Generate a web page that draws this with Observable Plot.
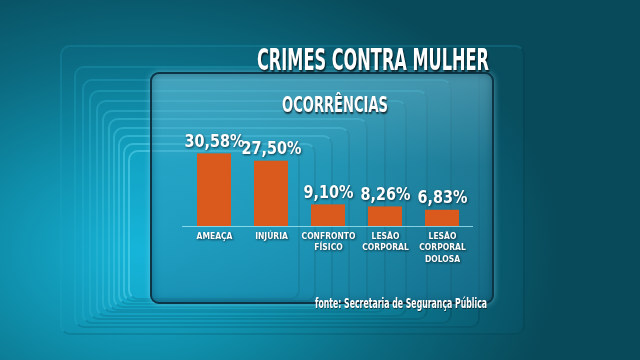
<!DOCTYPE html>
<html>
<head>
<meta charset="utf-8">
<script src="https://cdn.jsdelivr.net/npm/d3@7"></script>
<script src="https://cdn.jsdelivr.net/npm/@observablehq/plot@0.6"></script>
<style>
  html, body { margin: 0; padding: 0; }
  body {
    width: 640px; height: 360px; overflow: hidden; position: relative;
    background: radial-gradient(ellipse 420px 300px at 140px 250px, #17b3d6 0%, #0f8eaa 35%, #0b6a80 65%, #084a5a 100%);
    font-family: "DejaVu Sans", sans-serif;
  }
  .frame { position: absolute; border-radius: 10px; box-sizing: border-box; }
  #panel {
    position: absolute; left: 150px; top: 72px; width: 340px; height: 228px;
    border-radius: 9px; border: 2px solid #0c3444;
    background: linear-gradient(180deg, rgba(120,200,225,0.55) 0%, rgba(60,160,195,0.42) 40%, rgba(30,120,155,0.5) 100%);
    box-shadow: 0 0 6px rgba(150,230,255,0.5), inset 0 0 8px rgba(0,40,60,0.4);
  }
  .fit { position: absolute; color: #fff; font-weight: bold; white-space: nowrap; transform-origin: left top; }
  #title { left: 257px; top: 41px; font-size: 31px; text-shadow: 2px 2px 2px rgba(0,0,0,0.7); }
  #subtitle { left: 282px; top: 92px; font-size: 22px; text-shadow: 1px 2px 2px rgba(0,0,0,0.7); }
  #source { left: 315px; top: 295px; font-size: 14px; text-shadow: 1px 1px 1px rgba(0,0,0,0.6); }
  #chart { position: absolute; left: 0; top: 0; }
  #chart svg text { filter: drop-shadow(1px 1.5px 1px rgba(0,20,30,0.75)); }
</style>
</head>
<body>
<div id="frames"></div>
<div id="panel"></div>
<div id="chart"></div>
<div id="title" class="fit" data-w="232">CRIMES CONTRA MULHER</div>
<div id="subtitle" class="fit" data-w="106">OCORRÊNCIAS</div>
<div id="source" class="fit" data-w="172">fonte: Secretaria de Segurança Pública</div>
<script>
// Data
const categories = ["AMEAÇA", "INJÚRIA", "CONFRONTO FÍSICO", "LESÃO CORPORAL", "LESÃO CORPORAL DOLOSA"];
const categoryLabels = ["AMEAÇA", "INJÚRIA", "CONFRONTO\nFÍSICO", "LESÃO\nCORPORAL", "LESÃO\nCORPORAL\nDOLOSA"];
const values = [30.58, 27.50, 9.10, 8.26, 6.83];
const valueLabels = ["30,58%", "27,50%", "9,10%", "8,26%", "6,83%"];

const data = categories.map((c, i) => ({cat: c, label: categoryLabels[i], value: values[i], vlabel: valueLabels[i]}));

// Decorative nested frames (background only)
const frames = document.getElementById("frames");
const outer = {l: 60, t: 45, r: 525, b: 335};
const inner = {l: 128, t: 150, r: 300, b: 300};
const n = 11;
for (let i = 0; i < n; i++) {
  const f = i / (n - 1);
  const e = Math.pow(f, 0.7);
  const l = outer.l + (inner.l - outer.l) * e;
  const t = outer.t + (inner.t - outer.t) * e;
  const r = outer.r + (inner.r - outer.r) * e;
  const b = outer.b + (inner.b - outer.b) * e;
  const d = document.createElement("div");
  d.className = "frame";
  d.style.left = l + "px"; d.style.top = t + "px";
  d.style.width = (r - l) + "px"; d.style.height = (b - t) + "px";
  d.style.border = "2px solid rgba(" + (40 + 60 * f) + "," + (170 + 50 * f) + "," + (200 + 40 * f) + "," + (0.2 + 0.3 * f) + ")";
  d.style.borderRightColor = "rgba(0,40,50,0.2)";
  d.style.borderBottomColor = "rgba(0,40,50,0.15)";
  d.style.background = "rgba(30,190,225," + (0.04 + 0.04 * f) + ")";
  frames.appendChild(d);
}

const chart = Plot.plot({
  width: 640,
  height: 360,
  marginLeft: 196,
  marginRight: 179,
  marginTop: 150,
  marginBottom: 134,
  style: {background: "transparent", fontFamily: "'DejaVu Sans', sans-serif"},
  x: {domain: categories, paddingInner: 0.4, paddingOuter: 0, axis: null},
  y: {domain: [0, 32], axis: null},
  marks: [
    Plot.barY(data, {x: "cat", y: "value", fill: "#d95a1c"}),
    Plot.ruleY([0], {stroke: "#9fe6f5", strokeOpacity: 0.8, strokeWidth: 1, insetLeft: -14, insetRight: -12}),
    Plot.text(data, {x: "cat", y: "value", text: "vlabel", dy: -7, lineAnchor: "bottom", fill: "white", fontWeight: "bold", fontSize: 18}),
    Plot.text(data, {x: "cat", y: 0, text: "label", dy: 5, lineAnchor: "top", lineHeight: 1.17, fill: "white", fontWeight: "bold", fontSize: 9.5, className: "catlabel"})
  ]
});
document.getElementById("chart").appendChild(chart);

// Condense SVG texts horizontally (no condensed font installed)
chart.querySelectorAll("text").forEach(t => {
  const isCat = t.closest(".catlabel") !== null;
  const tr = t.getAttribute("transform") || "";
  t.setAttribute("transform", tr + (isCat ? " scale(0.8,1)" : " scale(0.8,1)"));
});

// Fit HTML texts horizontally to their reference widths
document.querySelectorAll(".fit").forEach(el => {
  const w = el.getBoundingClientRect().width;
  const target = +el.dataset.w;
  el.style.transform = "scaleX(" + (target / w) + ")";
});
</script>
</body>
</html>
